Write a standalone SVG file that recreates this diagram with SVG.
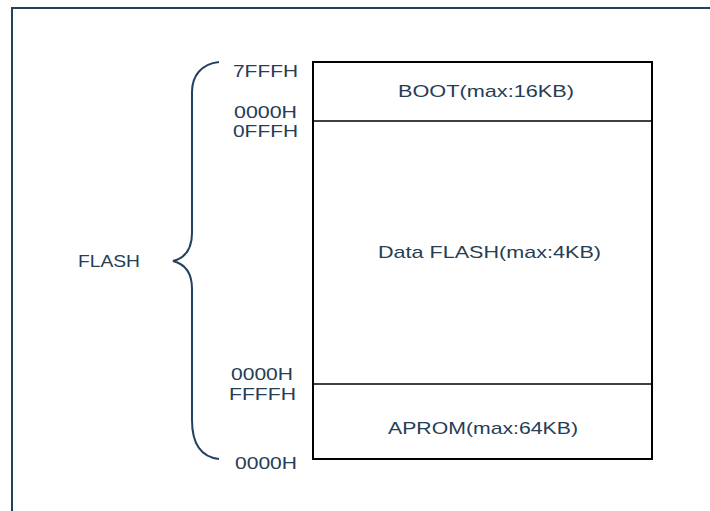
<svg xmlns="http://www.w3.org/2000/svg" width="710" height="511" viewBox="0 0 710 511">
<style>
.t{font-family:"Liberation Sans",Arial,sans-serif;font-size:17px;fill:#253d55}
.box{fill:#fff;stroke:#000;stroke-width:2}
.sep{stroke:#000;stroke-width:1.5}
.navy{fill:none;stroke:#23405e;stroke-width:2}
</style>
<rect width="710" height="511" fill="#fff"/>
<g id="frame">
<path class="navy" d="M12,511 L12,8 L710,8"/>
</g>
<g id="brace">
<path class="navy" d="M219,62 C201,64 192,76 192,92 L192,233 C192,250 185,258 173,261 C185,264 192,272 192,289 L192,420 C192,444 201,457 219,459"/>
<text class="t" x="78" y="267" textLength="62" lengthAdjust="spacingAndGlyphs">FLASH</text>
</g>
<g id="memory">
<rect class="box" x="313" y="62" width="339" height="397"/>
<line class="sep" x1="313" y1="121" x2="652" y2="121"/>
<line class="sep" x1="313" y1="384" x2="652" y2="384"/>
</g>
<g id="boot">
<text class="t" x="398" y="97" textLength="176" lengthAdjust="spacingAndGlyphs">BOOT(max:16KB)</text>
</g>
<g id="dataflash">
<text class="t" x="378" y="258" textLength="223" lengthAdjust="spacingAndGlyphs">Data FLASH(max:4KB)</text>
</g>
<g id="aprom">
<text class="t" x="388" y="434" textLength="190" lengthAdjust="spacingAndGlyphs">APROM(max:64KB)</text>
</g>
<g id="addresses">
<text class="t" x="233" y="77" textLength="65" lengthAdjust="spacingAndGlyphs">7FFFH</text>
<text class="t" x="234" y="118" textLength="63" lengthAdjust="spacingAndGlyphs">0000H</text>
<text class="t" x="233" y="137" textLength="65" lengthAdjust="spacingAndGlyphs">0FFFH</text>
<text class="t" x="231" y="380" textLength="62" lengthAdjust="spacingAndGlyphs">0000H</text>
<text class="t" x="229" y="400" textLength="67" lengthAdjust="spacingAndGlyphs">FFFFH</text>
<text class="t" x="235" y="469" textLength="62" lengthAdjust="spacingAndGlyphs">0000H</text>
</g>
</svg>
